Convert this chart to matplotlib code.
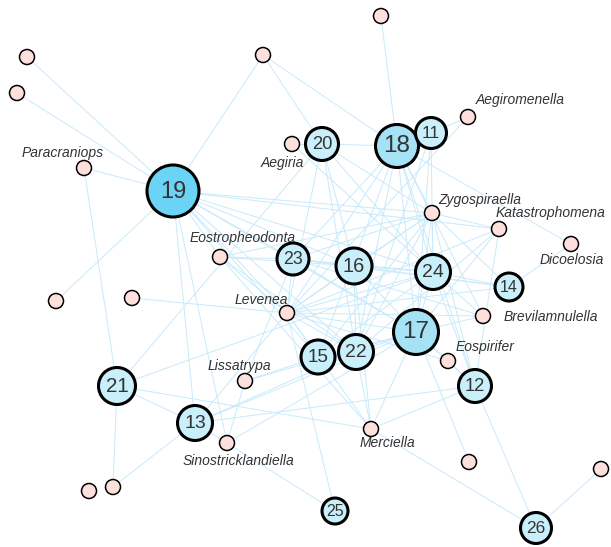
import matplotlib.pyplot as plt
from matplotlib.patches import Circle

# node positions (layout, pixel space), node kind and size value
names = ["19", "18", "17", "20", "11", "23", "16", "24", "14", "22", "15", "21", "13", "12", "25", "26",
         "Paracraniops", "Aegiria", "Aegiromenella", "Zygospiraella", "Katastrophomena", "Dicoelosia",
         "Eostropheodonta", "Levenea", "Brevilamnulella", "Eospirifer", "Lissatrypa",
         "Sinostricklandiella", "Merciella",
         "a1", "a2", "a3", "a4", "a5", "a6", "a7", "a8", "a9", "a10"]
pos_x = [173, 397, 416, 322, 431, 293, 354, 433, 509, 356, 318, 117, 195, 475, 335, 536,
         84, 292, 468, 432, 499, 571, 220, 287, 483, 448, 245, 227, 371,
         27, 17, 263, 381, 56, 132, 89, 113, 469, 601]
pos_y = [191, 146, 332, 144, 133, 259, 266, 272, 287, 352, 357, 386, 423, 386, 511, 528,
         168, 144, 117, 213, 229, 244, 257, 313, 316, 361, 381, 443, 429,
         57, 93, 55, 16, 301, 298, 491, 487, 462, 469]
node_size = [26, 21.5, 22.5, 16.5, 15.5, 16, 18, 17.5, 14, 17.5, 17, 18.5, 17.5, 16.5, 13, 15.5] + [7.5] * 23

edges = [
    ("19", "a1"), ("19", "a2"), ("19", "Paracraniops"), ("19", "a3"), ("19", "a5"), ("19", "13"),
    ("19", "Sinostricklandiella"), ("19", "Levenea"), ("19", "15"), ("19", "22"), ("19", "17"),
    ("19", "16"), ("19", "23"), ("19", "24"), ("19", "Zygospiraella"), ("19", "Katastrophomena"),
    ("19", "Eostropheodonta"),
    ("Paracraniops", "21"), ("a3", "18"), ("a3", "20"), ("a4", "18"),
    ("Aegiria", "20"), ("Aegiria", "24"),
    ("20", "18"), ("20", "21"), ("20", "16"), ("20", "Levenea"), ("20", "24"), ("20", "22"),
    ("20", "Zygospiraella"),
    ("18", "11"), ("18", "Dicoelosia"), ("18", "24"), ("18", "17"), ("18", "Levenea"), ("18", "15"),
    ("18", "23"), ("18", "Brevilamnulella"), ("18", "Zygospiraella"), ("18", "22"), ("18", "12"),
    ("11", "Aegiromenella"), ("11", "17"), ("11", "24"), ("11", "22"),
    ("Aegiromenella", "Levenea"),
    ("Zygospiraella", "Katastrophomena"), ("Zygospiraella", "23"), ("Zygospiraella", "16"),
    ("Zygospiraella", "Levenea"), ("Zygospiraella", "22"), ("Zygospiraella", "17"),
    ("Zygospiraella", "24"), ("Zygospiraella", "15"), ("Zygospiraella", "14"), ("Zygospiraella", "12"),
    ("Zygospiraella", "Eostropheodonta"),
    ("Katastrophomena", "12"), ("Katastrophomena", "Levenea"), ("Katastrophomena", "17"),
    ("Katastrophomena", "22"), ("Dicoelosia", "14"),
    ("Eostropheodonta", "23"), ("Eostropheodonta", "16"), ("Eostropheodonta", "Levenea"),
    ("Eostropheodonta", "Merciella"), ("Eostropheodonta", "22"),
    ("23", "16"), ("23", "24"), ("23", "17"), ("23", "Brevilamnulella"), ("23", "Lissatrypa"),
    ("23", "Levenea"), ("23", "14"),
    ("16", "17"), ("16", "24"), ("16", "Levenea"), ("16", "Merciella"), ("16", "14"), ("16", "22"),
    ("24", "17"), ("24", "14"), ("24", "Levenea"), ("24", "15"), ("24", "Brevilamnulella"), ("24", "12"),
    ("Levenea", "a6"), ("Levenea", "13"), ("Levenea", "17"), ("Levenea", "22"), ("Levenea", "15"),
    ("Levenea", "14"), ("Levenea", "Merciella"), ("Levenea", "Eospirifer"), ("Levenea", "Brevilamnulella"),
    ("Levenea", "25"),
    ("17", "15"), ("17", "22"), ("17", "Brevilamnulella"), ("17", "Eospirifer"), ("17", "12"),
    ("17", "a9"), ("17", "Merciella"), ("17", "13"), ("17", "Lissatrypa"), ("17", "Sinostricklandiella"),
    ("21", "13"), ("21", "a8"), ("21", "Merciella"), ("21", "24"),
    ("13", "a8"), ("13", "Sinostricklandiella"), ("13", "12"), ("13", "22"),
    ("Sinostricklandiella", "25"), ("Sinostricklandiella", "Lissatrypa"),
    ("Lissatrypa", "15"), ("Merciella", "26"), ("Merciella", "12"), ("Merciella", "22"),
    ("12", "26"), ("12", "Eospirifer"), ("26", "a10"), ("15", "22"),
]

# label placement offsets for the named genera
label_offset = {
    "Paracraniops": (-21, -15), "Aegiria": (-10, 19), "Aegiromenella": (52, -17),
    "Zygospiraella": (48, -13), "Katastrophomena": (52, -16), "Dicoelosia": (1, 16),
    "Eostropheodonta": (23, -19), "Levenea": (-26, -13), "Brevilamnulella": (68, 1),
    "Eospirifer": (37, -14), "Lissatrypa": (-6, -15), "Sinostricklandiella": (11, 18),
    "Merciella": (16, 14),
}

W, H = 611, 547
fig = plt.figure(figsize=(W / 100, H / 100), dpi=100)
ax = fig.add_axes([0, 0, 1, 1])
ax.set_xlim(0, W)
ax.set_ylim(H, 0)
ax.set_aspect("equal")
ax.axis("off")

idx = {n: i for i, n in enumerate(names)}
for a, b in edges:
    i, j = idx[a], idx[b]
    ax.plot([pos_x[i], pos_x[j]], [pos_y[i], pos_y[j]], color="#c8eafb", lw=0.7, zorder=1)

for i, n in enumerate(names):
    r = node_size[i]
    if n.isdigit():
        if n == "19":
            fc = "#6bd3f6"
        elif n in ("18", "17"):
            fc = "#a6e2f6"
        else:
            fc = "#c9effa"
        ax.add_patch(Circle((pos_x[i], pos_y[i]), r, fc=fc, ec="black", lw=2.2, zorder=2))
        fs = 17 if n == "19" else (17.5 if n in ("18", "17") else max(r * 0.8, 11.5))
        ax.text(pos_x[i], pos_y[i] + 0.5, n, ha="center", va="center", fontsize=fs,
                color="#333333", family="Liberation Sans", zorder=3)
    else:
        ax.add_patch(Circle((pos_x[i], pos_y[i]), r, fc="#fde0dc", ec="black", lw=1.1, zorder=2))
        if n in label_offset:
            dx, dy = label_offset[n]
            ax.text(pos_x[i] + dx, pos_y[i] + dy, n, ha="center", va="center", fontsize=10,
                    style="italic", color="#333333", family="Liberation Sans", zorder=3)

fig.savefig("out.png", dpi=100)
